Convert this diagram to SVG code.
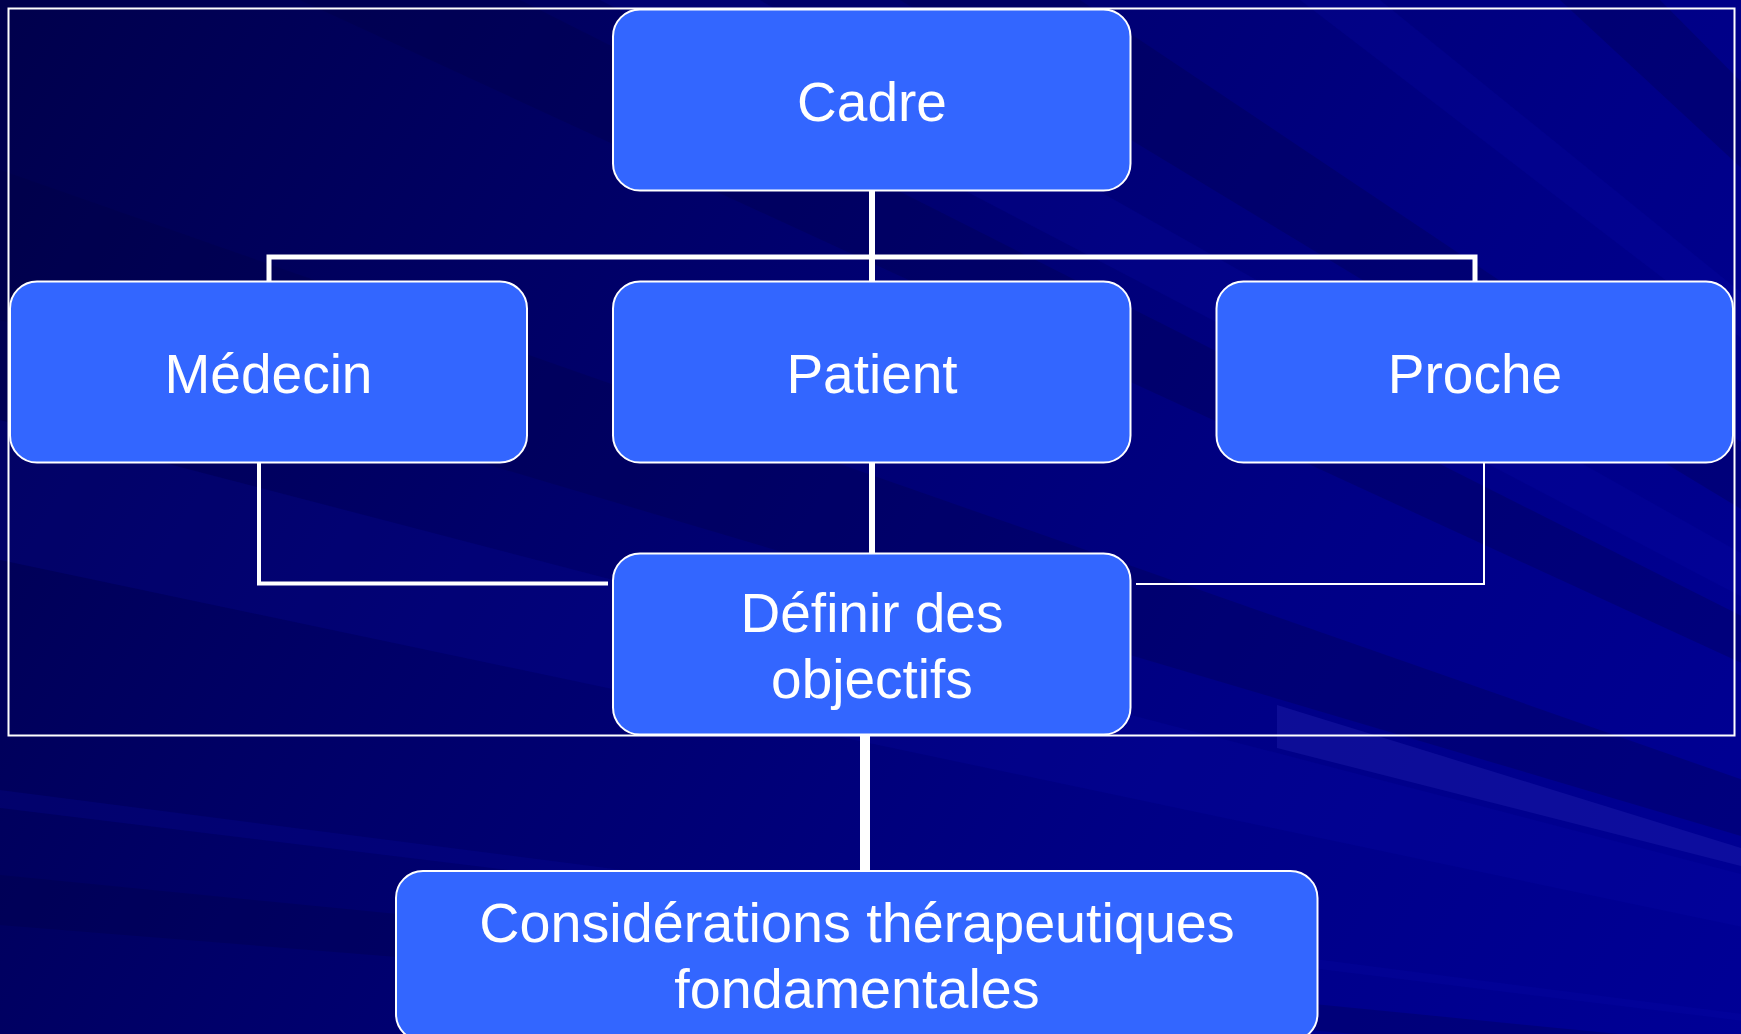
<svg xmlns="http://www.w3.org/2000/svg" width="1741" height="1034" viewBox="0 0 1741 1034">
  <defs>
    <linearGradient id="bg" x1="0" y1="0" x2="1741" y2="1034" gradientUnits="userSpaceOnUse">
      <stop offset="0" stop-color="#00004c"/>
      <stop offset="0.35" stop-color="#00006a"/>
      <stop offset="0.7" stop-color="#000086"/>
      <stop offset="1" stop-color="#000096"/>
    </linearGradient>
    <style>
      .box { fill: #3366ff; stroke: #ffffff; stroke-width: 2; }
      .lbl { font-family: "Liberation Sans", Arial, sans-serif; font-size: 55px; fill: #ffffff; text-anchor: middle; }
      .con { stroke: #ffffff; fill: none; stroke-linecap: butt; }
      .lt { fill: #0a0ab0; opacity: 0.18; }
      .dk { fill: #000040; opacity: 0.25; }
    </style>
  </defs>

  <!-- background -->
  <rect x="0" y="0" width="1741" height="1034" fill="url(#bg)"/>
  <g id="rays">
    <polygon class="dk" points="2800,1150 0,170 0,320"/>
    <polygon class="dk" points="2800,1150 300,0 520,0"/>
    <polygon class="lt" points="2800,1150 600,0 760,0"/>
    <polygon class="dk" points="2800,1150 900,0 1080,0"/>
    <polygon class="lt" points="2800,1150 1300,0 1380,0"/>
    <polygon class="dk" points="2800,1150 1560,0 1660,0"/>
    <polygon class="lt" points="2800,1150 0,420 0,560"/>
    <polygon class="lt" points="2800,1150 0,790 0,808"/>
    <polygon class="dk" points="2800,1150 0,875 0,925"/>
    <polygon fill="#2a2ab8" opacity="0.3" points="1277,705 1741,848 1741,866 1277,748"/>
  </g>

  <!-- outer frame -->
  <rect id="frame" x="8.5" y="8.5" width="1726" height="727" fill="none" stroke="#ffffff" stroke-width="2"/>

  <!-- connectors -->
  <g id="connectors">
    <line class="con" x1="872" y1="191" x2="872" y2="282" stroke-width="6"/>
    <polyline class="con" points="269,281 269,257 1475,257 1475,281" stroke-width="5"/>
    <line class="con" x1="872" y1="463" x2="872" y2="554" stroke-width="6"/>
    <polyline class="con" points="259,463 259,583.5 608,583.5" stroke-width="4"/>
    <polyline class="con" points="1484,463 1484,584 1136,584" stroke-width="2"/>
    <line class="con" x1="865" y1="735" x2="865" y2="871" stroke-width="10"/>
  </g>

  <!-- nodes -->
  <g id="cadre">
    <rect class="box" x="613" y="9.5" width="517.5" height="181" rx="27" ry="27"/>
    <text class="lbl" x="872" y="121">Cadre</text>
  </g>
  <g id="medecin">
    <rect class="box" x="10" y="281.5" width="517" height="181" rx="27" ry="27"/>
    <text class="lbl" x="268.5" y="393">Médecin</text>
  </g>
  <g id="patient">
    <rect class="box" x="613" y="281.5" width="517.5" height="181" rx="27" ry="27"/>
    <text class="lbl" x="872" y="393">Patient</text>
  </g>
  <g id="proche">
    <rect class="box" x="1216.5" y="281.5" width="516.5" height="181" rx="27" ry="27"/>
    <text class="lbl" x="1475" y="393">Proche</text>
  </g>
  <g id="definir">
    <rect class="box" x="613" y="553.5" width="517.5" height="181" rx="27" ry="27"/>
    <text class="lbl" x="872" y="632">Définir des</text>
    <text class="lbl" x="872" y="698">objectifs</text>
  </g>
  <g id="considerations">
    <rect class="box" x="396" y="871" width="921.5" height="170" rx="27" ry="27"/>
    <text class="lbl" x="857" y="942" style="font-size:55.7px">Considérations thérapeutiques</text>
    <text class="lbl" x="857" y="1008" style="font-size:55.7px">fondamentales</text>
  </g>
</svg>
